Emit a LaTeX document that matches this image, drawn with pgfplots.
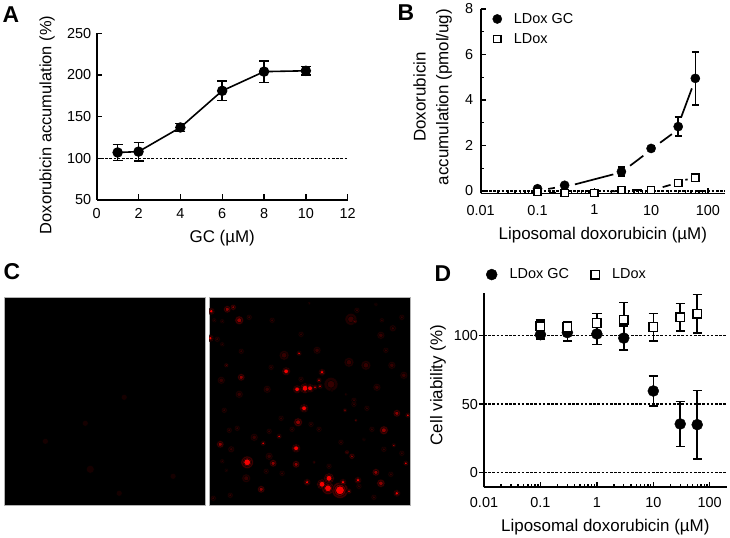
\documentclass[border=0pt]{standalone}
\usepackage{pgfplots}
\usepackage{pgfplotstable}
\usepackage{fontspec}
\setmainfont{Liberation Sans}
\pgfplotsset{compat=1.18}
\newcommand{\fs}{\fontsize{14.5}{17}\selectfont}
\newcommand{\lf}{\fontsize{17}{23}\selectfont}
\definecolor{faintred}{HTML}{360000}
\definecolor{faintouter}{HTML}{1E0000}
\definecolor{midred}{HTML}{8C0000}
\definecolor{midhalo}{HTML}{3C0000}
\definecolor{brightred}{HTML}{F40000}
\definecolor{haloRed}{HTML}{640000}
\definecolor{dimred}{HTML}{160000}
\pgfplotstableread{
x y s
2 14 2
1 41 2
90 56 1.5
96 91 3
100 90 2
113 75 2
110 83 1.5
101 91 2.5
106 90 1.5
111 89 1.5
38 165 3.5
87 151 2.5
95 111 2.5
98 185 2
54 146 1.5
70 139 1.5
113 187 3
119 191 3.5
131 193 4.6
120 181 3
134 185 2
140 194 1.5
149 183 2
188 196 2
185 148 1.2
197 166 1.5
136 113 1.2
147 123 1
199 118 1.5
77 74 2.4
88 92 2.4
}\brighttable
\pgfplotstableread{
x y s
18 12 2.5
24 10 2
30 23 3
32 80 2.5
17 68 1.5
146 24 1.5
123 93 1
137 97 1
100 6 1
87 167 2.5
11 147 2.5
52 192 2.5
64 166 2.5
89 125 3
175 133 3
172 186 2.8
167 175 2.5
138 155 1.5
105 165 1.2
143 159 2
188 116 2.5
}\midtable
\pgfplotstableread{
x y s
5 23 2.5
13 24 2.5
32 54 3
75 58 5
12 83 4
58 92 4
63 23 3
30 97 4
62 70 3
8 42 3
13 47 2.5
92 82 3
92 37 3
40 20 3
142 22 6
122 87 7
173 23 2.5
184 31 3.5
140 65 5
157 68 5
167 7 2
183 68 4
172 38 4
195 78 4
108 53 4
177 53 3
168 90 4
193 20 3
145 103 3
148 13 3
37 181 4.5
22 152 3.5
13 164 2.5
17 173 2
21 198 3
15 113 3
45 140 4
60 159 4
83 132 3
72 121 3
20 133 3
28 131 3
57 174 3
4 201 3
73 176 3
60 134 3
145 107 3
158 111 3
110 132 3
132 145 3
165 200 3
175 152 3
155 142 2
193 156 3
182 177 3
120 169 3
150 189 3
163 132 3
102 127 3
}\fainttable
\pgfplotstableread{
x y s
86 172 4
81 126 3
41 144 3
115 196 3
169 179 3
120 100 3
}\dimtable
\pgfplotsset{
  panel/.style={
    scale only axis, axis lines=left, axis line style={-, line width=1.6bp},
    tick style={black, line width=1.4bp},
    tick align=inside, major tick length=5.5bp, minor tick length=3bp,
    tick label style={font=\fs},
    /pgf/number format/assume math mode=true,
    clip=false,
    legend cell align=left,
  },
  gc/.style={only marks, mark=*, mark size=#1, black, mark options={fill=black, draw=black, solid},
     error bars/.cd, y dir=both, y explicit, error bar style={line width=1.5bp, black}},
  ld/.style={only marks, mark=square*, mark size=#1, black, mark options={fill=white, draw=black, line width=1.4bp, solid},
     error bars/.cd, y dir=both, y explicit, error bar style={line width=1.5bp, black}},
  seg/.style={black, line width=1.7bp, no marks, forget plot},
  hline/.style={black, line width=1.1bp, dash pattern=on 2.6bp off 1.6bp, no marks, forget plot},
  image/.style={
    scale only axis, width=200.5bp, height=208bp, xmin=0, xmax=201, ymin=0, ymax=208, y dir=reverse,
    ticks=none, axis line style={draw=gray!60, line width=0.6bp},
    axis background/.style={fill=black}, clip marker paths=true,
  },
  spots/.style n args={2}{
    scatter, only marks, mark=*,
    mark options={fill=#1, draw=none},
    visualization depends on={#2*\thisrow{s} \as \perpointmarksize},
    scatter/@pre marker code/.code={\scope[mark size=\perpointmarksize]},
    scatter/@post marker code/.code={\endscope},
  },
}
\begin{document}
\begin{tikzpicture}[x=1bp,y=1bp]
\path[use as bounding box] (0,0) rectangle (730,538);
\node[font=\bfseries\fontsize{23}{23}\selectfont] at (11,523) {A};
\node[font=\bfseries\fontsize{23}{23}\selectfont] at (406,525) {B};
\node[font=\bfseries\fontsize{23}{23}\selectfont] at (12,266) {C};
\node[font=\bfseries\fontsize{23}{23}\selectfont] at (443,264) {D};

% Panel A
\begin{axis}[panel, at={(96.7bp,338bp)}, anchor=south west, width=251bp, height=166.7bp,
  xmin=0, xmax=12, ymin=50, ymax=250,
  xtick={0,2,4,6,8,10,12}, ytick={50,100,150,200,250},
  xticklabel style={yshift=-5bp}, yticklabel style={xshift=-2bp},
  xlabel={GC (µM)}, ylabel={Doxorubicin accumulation (\%)},
  every axis x label/.style={at={(axis description cs:0.5,-0.228)}, anchor=center, font=\lf},
  every axis y label/.style={at={(axis description cs:-0.198,0.45)}, anchor=center, rotate=90, font=\fontsize{16.5}{20}\selectfont},
]
\addplot[hline] coordinates {(0,100) (12,100)};
\addplot[black, line width=1.6bp, mark=*, mark size=4.4bp, mark options={fill=black, solid},
  error bars/.cd, y dir=both, y explicit, error bar style={line width=1.5bp, black},
  error mark options={rotate=90, mark size=5bp, line width=1.5bp, black}]
  coordinates {(1,107) +- (0,9.5) (2,108) +- (0,11) (4,137) +- (0,5) (6,181) +- (0,11.5) (8,204) +- (0,13) (10,205) +- (0,5)};
\end{axis}

% Panel B
\begin{axis}[panel, at={(480.7bp,344.5bp)}, anchor=south west, width=244.3bp, height=184.5bp,
  xmode=log, xmin=0.01, xmax=200, ymin=-0.11, ymax=8,
  log basis x=10,
  xtick={0.01,0.1,1,10,100}, xticklabels={0.01,0.1,1,10,100},
  minor xtick={0.02,0.03,0.04,0.05,0.06,0.07,0.08,0.09,0.2,0.3,0.4,0.5,0.6,0.7,0.8,0.9,2,3,4,5,6,7,8,9,20,30,40,50,60,70,80,90},
  ytick={0,2,4,6,8}, minor ytick={1,3,5,7},
  xticklabel style={yshift=-8bp}, yticklabel style={xshift=-4bp},
  xlabel={Liposomal doxorubicin (µM)}, ylabel={Doxorubicin\\accumulation (pmol/ug)},
  every axis x label/.style={at={(axis description cs:0.5,-0.225)}, anchor=center, font=\lf},
  every axis y label/.style={at={(axis description cs:-0.197,0.523)}, anchor=center, rotate=90, align=center, font=\lf},
  legend style={draw=none, fill=none, at={(0.04,1.0)}, anchor=north west, font=\fs, row sep=4.5bp, inner sep=2bp,
    /tikz/every odd column/.append style={column sep=10bp}},
]
\addplot[hline] coordinates {(0.01,0) (200,0)};
\addplot[seg] coordinates {(0.154,0.09) (0.202,0.14)};
\addplot[seg] coordinates {(0.456,0.29) (2.16,0.73)};
\addplot[seg] coordinates {(4.26,1.11) (7.3,1.55)};
\addplot[seg] coordinates {(14.4,2.12) (23.2,2.5)};
\addplot[seg] coordinates {(33.8,3.24) (52.2,4.51)};
\addplot[seg] coordinates {(0.16,-0.07) (0.21,-0.07)};
\addplot[seg] coordinates {(1.9,-0.02) (2.3,-0.01)};
\addplot[seg] coordinates {(4.6,0.05) (7,0.05)};
\addplot[seg] coordinates {(16,0.17) (22,0.27)};
\addplot[seg] coordinates {(40,0.49) (44,0.51)};
\addplot[gc=4.6bp, error mark options={rotate=90, mark size=3.5bp, line width=1.5bp, black}]
  coordinates {(0.1,0.1) +- (0,0.05) (0.3,0.25) +- (0,0.05) (3,0.85) +- (0,0.2) (10,1.87) +- (0,0.1) (30,2.83) +- (0,0.42) (60,4.95) +- (0,1.17)};
\addlegendentry{LDox GC}
\addplot[ld=3.6bp, error mark options={rotate=90, mark size=3.5bp, line width=1.5bp, black}]
  coordinates {(0.1,-0.05) +- (0,0.03) (0.3,-0.08) +- (0,0.03) (1,-0.08) +- (0,0.03) (3,0.05) +- (0,0.03) (10,0.05) +- (0,0.03) (30,0.35) +- (0,0.04) (60,0.58) +- (0,0.05)};
\addlegendentry{LDox}
\end{axis}

% Panel C
\begin{axis}[image, at={(4.5bp,32.7bp)}, anchor=south west]
\addplot[spots={dimred}{1}] table[x=x,y=y] {\dimtable};
\end{axis}
\begin{axis}[image, at={(209.3bp,32.7bp)}, anchor=south west]
\addplot[spots={faintouter}{1}] table[x=x,y=y] {\fainttable};
\addplot[spots={faintred}{0.55}] table[x=x,y=y] {\fainttable};
\addplot[spots={midhalo}{1.5}] table[x=x,y=y] {\midtable};
\addplot[spots={midred}{0.8}] table[x=x,y=y] {\midtable};
\addplot[spots={midhalo}{1.8}] table[x=x,y=y] {\brighttable};
\addplot[spots={haloRed}{1.3}] table[x=x,y=y] {\brighttable};
\addplot[spots={brightred}{0.95}] table[x=x,y=y] {\brighttable};
\end{axis}

% Panel D
\begin{axis}[panel, at={(484bp,50.7bp)}, anchor=south west, width=242.7bp, height=194bp,
  xmode=log, xmin=0.01, xmax=200, ymin=-10.6, ymax=130.6,
  log basis x=10,
  xtick={0.01,0.1,1,10,100}, xticklabels={0.01,0.1,1,10,100},
  minor xtick={0.02,0.03,0.04,0.05,0.06,0.07,0.08,0.09,0.2,0.3,0.4,0.5,0.6,0.7,0.8,0.9,2,3,4,5,6,7,8,9,20,30,40,50,60,70,80,90},
  ytick={0,50,100}, ytick align=outside,
  xticklabel style={yshift=-7bp}, yticklabel style={xshift=3bp},
  xlabel={Liposomal doxorubicin (µM)}, ylabel={Cell viability (\%)},
  every axis x label/.style={at={(axis description cs:0.5,-0.205)}, anchor=center, font=\lf},
  every axis y label/.style={at={(axis description cs:-0.19,0.527)}, anchor=center, rotate=90, font=\lf},
  legend columns=2,
  legend style={draw=none, fill=none, at={(0.0,1.045)}, anchor=south west, font=\fs, inner sep=2bp,
    /tikz/every odd column/.append style={column sep=10.5bp},
    /tikz/every even column/.append style={column sep=20bp}},
]
\addplot[hline] coordinates {(0.01,0) (200,0)};
\addplot[hline] coordinates {(0.01,50) (200,50)};
\addplot[hline] coordinates {(0.01,100) (200,100)};
\addplot[gc=5.5bp, error mark options={rotate=90, mark size=4.7bp, line width=1.5bp, black}]
  coordinates {(0.1,100.5) +- (0,3) (0.3,102) +- (0,6) (1,101) +- (0,7.5) (3,98) +- (0,8.7) (10,59.5) +- (0,11) (30,35.5) +- (0,16.5) (60,35) +- (0,25)};
\addlegendentry{LDox GC}
\addplot[ld=4.3bp, error mark options={rotate=90, mark size=4.7bp, line width=1.5bp, black}]
  coordinates {(0.1,106.5) +- (0,4.5) (0.3,106) +- (0,4) (1,109) +- (0,7) (3,111.5) +- (0,12.5) (10,106) +- (0,10) (30,113) +- (0,10) (60,115.8) +- (0,14)};
\addlegendentry{LDox}
\end{axis}
\end{tikzpicture}
\end{document}
